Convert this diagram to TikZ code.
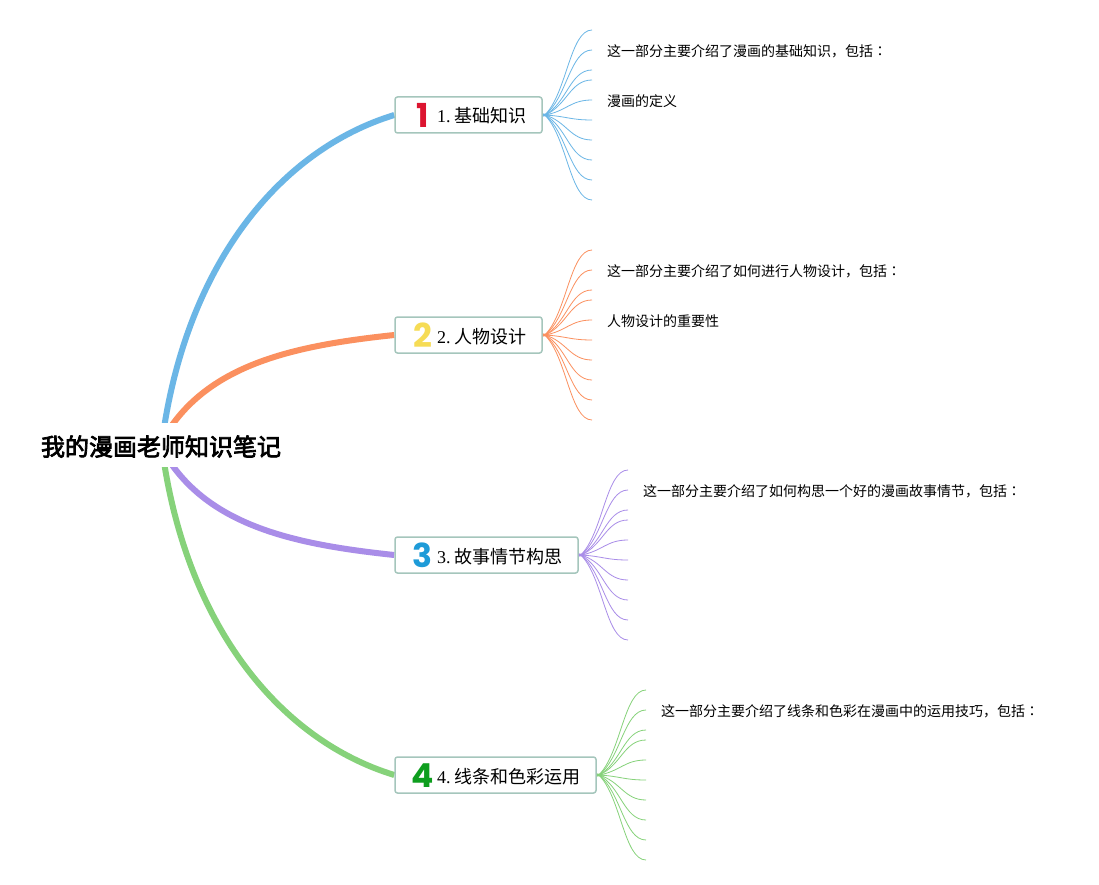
\documentclass[tikz,border=0pt]{standalone}
\usepackage{fontspec}
\setmainfont{Liberation Serif}
\newfontfamily\cjk{Noto Sans CJK SC}
\newfontfamily\cjktc{Noto Sans CJK TC}
\newfontfamily\cjkroot[FakeBold=3]{Noto Sans CJK SC}
\newfontfamily\iconfont{Poppins}
\usetikzlibrary{backgrounds,calc}
\definecolor{cblue}{HTML}{6BB6E6}
\definecolor{corange}{HTML}{FB905F}
\definecolor{cpurple}{HTML}{A98DE8}
\definecolor{cgreen}{HTML}{86D27A}
\definecolor{cborder}{HTML}{A5C6BC}
\definecolor{iconred}{HTML}{DC1530}
\definecolor{iconyellow}{HTML}{F6DC55}
\definecolor{iconblue}{HTML}{1E9BD8}
\definecolor{icongreen}{HTML}{0E9E1E}
\newcommand{\ttl}[1]{{\fontsize{18}{18}\selectfont #1}}
\newcommand{\zh}[1]{{\cjk #1}}
\newcommand{\colonzh}{{\cjktc ：}}
\newcommand{\shiftdown}[2]{\raisebox{-#1pt}[0pt][0pt]{#2}}
\newcommand{\topictext}[2]{\hspace{42pt}\shiftdown{8}{\ttl{#1\hspace{3.5pt}\zh{#2}}}}
\tikzset{
  x=1pt,y=-1pt,
  rootnode/.style={inner sep=0pt,fill=white,minimum width=244pt,minimum height=44pt,font={\cjkroot\fontsize{24}{24}\selectfont}},
  topicbox/.style={draw=cborder,line width=1.5pt,rounded corners=2.5pt,fill=white,inner sep=0pt,minimum height=36pt},
  iconnode/.style={inner sep=0pt,font={\iconfont\bfseries\fontsize{33}{33}\selectfont}},
  leaftext/.style={inner sep=0pt,anchor=west,font={\cjk\fontsize{14}{14}\selectfont}},
  mainline/.style={line width=6pt},
  fanline/.style={line width=0.8pt},
}
\newcommand{\fan}[5]{%
  \foreach \dy [count=\i] in {-85,-65,-45,-35,-15,5,25,45,65,85} {%
    \coordinate (#5\i) at (#3,#4+\dy);
    \draw[fanline,draw=#1] (#2.east) ++(2,0) .. controls ++(22,{0.25*\dy}) and ($(#5\i)+(-22,0)$) .. (#5\i);
  }%
  \fill[#1] (#2.east) ++(0,-1.6) -- ++(9,1.6) -- ++(-9,1.6) -- cycle;
}
\begin{document}
\begin{tikzpicture}
\useasboundingbox (0,0) rectangle (1099,885);
\node[rootnode] (root) at (161,445) {\shiftdown{10.7}{我的漫画老师知识笔记}};
\node[topicbox] (t1) at (468.5,115) {\makebox[147pt][l]{\topictext{1.}{基础知识}}};
\node[topicbox] (t2) at (468.5,335) {\makebox[147pt][l]{\topictext{2.}{人物设计}}};
\node[topicbox] (t3) at (486.5,555) {\makebox[183pt][l]{\topictext{3.}{故事情节构思}}};
\node[topicbox] (t4) at (495.5,775) {\makebox[201pt][l]{\topictext{4.}{线条和色彩运用}}};
\node[iconnode,text=iconred] (i1) at (422.5,115.3) {1};
\node[iconnode,text=iconyellow] (i2) at (422.5,335.3) {2};
\node[iconnode,text=iconblue] (i3) at (422.5,555.3) {3};
\node[iconnode,text=icongreen] (i4) at (422.5,775.3) {4};
\node[leaftext] (a1) at (607,51) {这一部分主要介绍了漫画的基础知识，包括\colonzh};
\node[leaftext] (a2) at (607,101) {漫画的定义};
\node[leaftext] (b1) at (607,271) {这一部分主要介绍了如何进行人物设计，包括\colonzh};
\node[leaftext] (b2) at (607,321) {人物设计的重要性};
\node[leaftext] (c1) at (643,491) {这一部分主要介绍了如何构思一个好的漫画故事情节，包括\colonzh};
\node[leaftext] (d1) at (661,711) {这一部分主要介绍了线条和色彩在漫画中的运用技巧，包括\colonzh};
\coordinate (s1) at (164,428);
\coordinate (s2) at (170,428);
\coordinate (s3) at (170,462);
\coordinate (s4) at (164,462);
\begin{pgfonlayer}{background}
\fill[white] (0,0) rectangle (1099,885);
\draw[mainline,draw=cblue] (s1) .. controls (190,262) and (280,150) .. (t1.west);
\draw[mainline,draw=corange] (s2) .. controls (215,362) and (300,345) .. (t2.west);
\draw[mainline,draw=cpurple] (s3) .. controls (215,528) and (300,545) .. (t3.west);
\draw[mainline,draw=cgreen] (s4) .. controls (190,628) and (280,740) .. (t4.west);
\end{pgfonlayer}
\fan{cblue}{t1}{592}{115}{p}
\fan{corange}{t2}{592}{335}{q}
\fan{cpurple}{t3}{628}{555}{r}
\fan{cgreen}{t4}{646}{775}{u}
\end{tikzpicture}
\end{document}
